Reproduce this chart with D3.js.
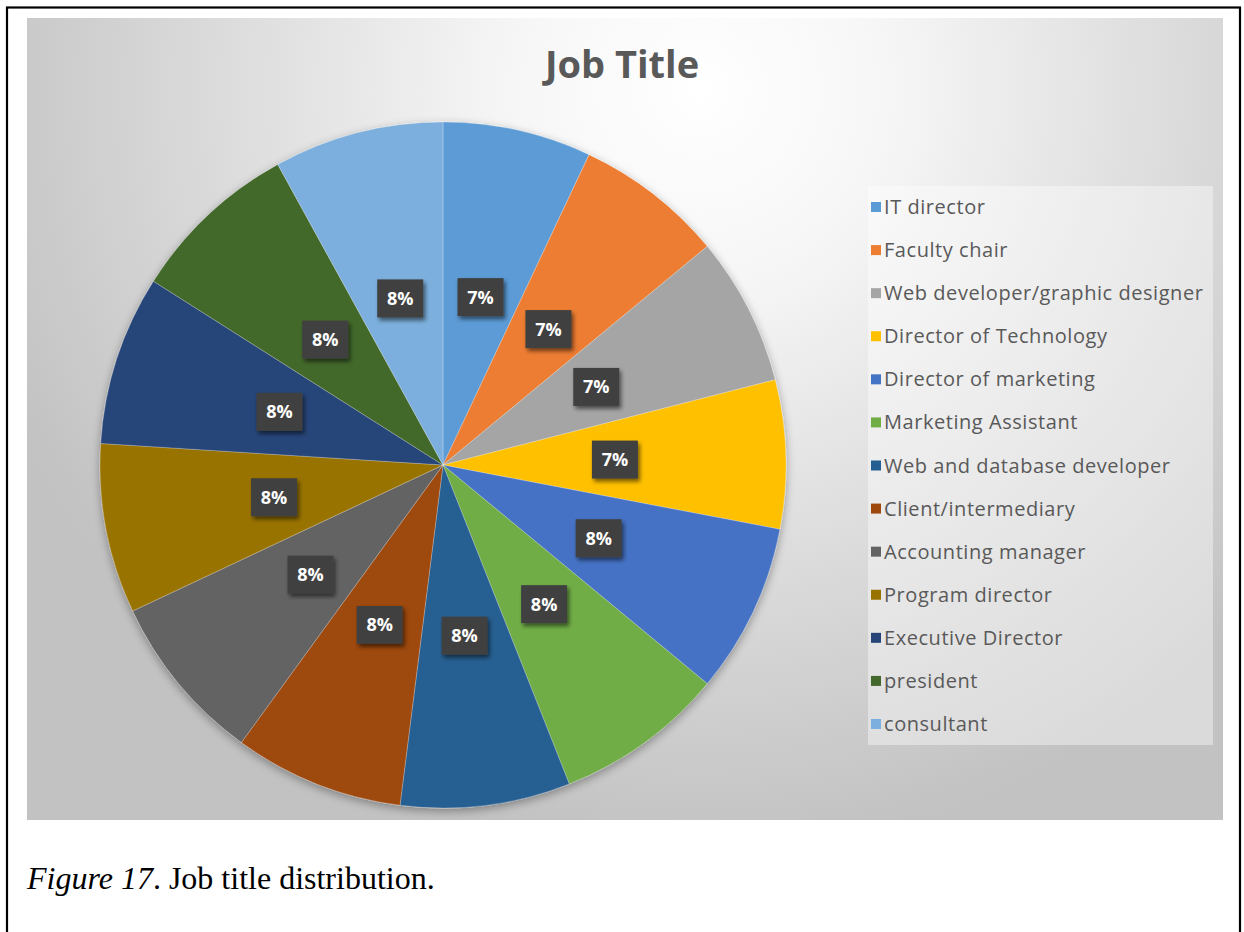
<!DOCTYPE html>
<html>
<head>
<meta charset="utf-8">
<script src="https://cdn.jsdelivr.net/npm/d3@7"></script>
<style>
  html, body { margin: 0; padding: 0; background: #ffffff; }
  svg { display: block; }
</style>
</head>
<body>
<svg id="chart" width="1244" height="932"></svg>
<script>
// Job title shares (percent), drawn clockwise from 12 o'clock
const categories = [
  "IT director", "Faculty chair", "Web developer/graphic designer",
  "Director of Technology", "Director of marketing", "Marketing Assistant",
  "Web and database developer", "Client/intermediary", "Accounting manager",
  "Program director", "Executive Director", "president", "consultant"
];
const shares = [7, 7, 7, 7, 8, 8, 8, 8, 8, 8, 8, 8, 8];
const sliceColors = [
  "#5B9BD5", "#ED7D31", "#A5A5A5", "#FFC000", "#4472C4", "#70AD47",
  "#255E91", "#9E480E", "#636363", "#997300", "#264478", "#43682B", "#7CAFDD"
];
const chartTitle = "Job Title";

const svg = d3.select("#chart");
const defs = svg.append("defs");

// background: soft radial gradient, bright near the title
const bg = defs.append("radialGradient")
  .attr("id", "bgGrad")
  .attr("gradientUnits", "userSpaceOnUse")
  .attr("cx", 700).attr("cy", 90).attr("r", 760);
bg.append("stop").attr("offset", "0%").attr("stop-color", "#ffffff");
bg.append("stop").attr("offset", "25%").attr("stop-color", "#f6f6f6");
bg.append("stop").attr("offset", "100%").attr("stop-color", "#c2c2c2");

// shadows for the pie and the label boxes
const pieShadow = defs.append("filter").attr("id", "pieShadow")
  .attr("x", "-10%").attr("y", "-10%").attr("width", "120%").attr("height", "125%");
pieShadow.append("feGaussianBlur").attr("in", "SourceAlpha").attr("stdDeviation", 5);
pieShadow.append("feOffset").attr("dx", 0).attr("dy", 3).attr("result", "ob");
pieShadow.append("feComponentTransfer").append("feFuncA").attr("type", "linear").attr("slope", 0.35);
const pm = pieShadow.append("feMerge");
pm.append("feMergeNode");
pm.append("feMergeNode").attr("in", "SourceGraphic");

const boxShadow = defs.append("filter").attr("id", "boxShadow")
  .attr("x", "-30%").attr("y", "-30%").attr("width", "170%").attr("height", "170%");
boxShadow.append("feGaussianBlur").attr("in", "SourceAlpha").attr("stdDeviation", 2);
boxShadow.append("feOffset").attr("dx", 2).attr("dy", 3).attr("result", "ob");
boxShadow.append("feComponentTransfer").append("feFuncA").attr("type", "linear").attr("slope", 0.55);
const bm = boxShadow.append("feMerge");
bm.append("feMergeNode");
bm.append("feMergeNode").attr("in", "SourceGraphic");

// outer page frame
svg.append("rect")
  .attr("x", 7).attr("y", 7.5).attr("width", 1233).attr("height", 940)
  .attr("fill", "#ffffff").attr("stroke", "#000000").attr("stroke-width", 2.2);

// chart area
svg.append("rect")
  .attr("x", 27).attr("y", 18).attr("width", 1196).attr("height", 802)
  .attr("fill", "url(#bgGrad)");

// title
svg.append("text")
  .attr("x", 622).attr("y", 78)
  .attr("text-anchor", "middle")
  .attr("font-family", "'Open Sans', 'Noto Sans', sans-serif")
  .attr("font-weight", 700)
  .attr("font-size", 38)
  .attr("fill", "#595959")
  .text(chartTitle);

// pie
const cx = 443, cy = 465, radius = 343;
const color = d3.scaleOrdinal().domain(categories).range(sliceColors);
const pie = d3.pie().sort(null).value(d => d.value);
const data = categories.map((c, i) => ({ name: c, value: shares[i] }));
const arcs = pie(data);
const total = d3.sum(shares);

const arc = d3.arc().innerRadius(0).outerRadius(radius);
const labelArc = d3.arc().innerRadius(172).outerRadius(172);

const g = svg.append("g").attr("transform", `translate(${cx},${cy})`);
g.append("g").attr("filter", "url(#pieShadow)")
  .selectAll("path")
  .data(arcs)
  .join("path")
  .attr("d", arc)
  .attr("fill", d => color(d.data.name))
  .attr("stroke", "rgba(255,255,255,0.25)")
  .attr("stroke-width", 1);

// percentage labels in dark boxes
const fmt = d3.format(".0%");
const lbl = g.append("g").selectAll("g")
  .data(arcs)
  .join("g")
  .attr("transform", d => `translate(${labelArc.centroid(d)})`);
lbl.append("rect")
  .attr("x", -23).attr("y", -19).attr("width", 46).attr("height", 38)
  .attr("fill", "#404040")
  .attr("filter", "url(#boxShadow)");
lbl.append("text")
  .attr("text-anchor", "middle")
  .attr("dy", "0.36em")
  .attr("font-family", "'Open Sans', 'Noto Sans', sans-serif")
  .attr("font-weight", 700)
  .attr("font-size", 18)
  .attr("fill", "#ffffff")
  .text(d => fmt(d.data.value / total));

// legend
const legendX = 868, legendY = 186, legendW = 345, legendH = 559;
svg.append("rect")
  .attr("x", legendX).attr("y", legendY)
  .attr("width", legendW).attr("height", legendH)
  .attr("fill", "#ffffff").attr("fill-opacity", 0.4);

const ly = d3.scalePoint().domain(categories).range([207, 724]);
const leg = svg.append("g").selectAll("g")
  .data(categories)
  .join("g")
  .attr("transform", d => `translate(${legendX + 3},${ly(d)})`);
leg.append("rect")
  .attr("x", 0).attr("y", -5).attr("width", 10).attr("height", 10)
  .attr("fill", d => color(d));
leg.append("text")
  .attr("x", 13).attr("dy", "0.35em")
  .attr("font-family", "'Open Sans', 'Noto Sans', sans-serif")
  .attr("font-size", 20)
  .attr("letter-spacing", 0.55)
  .attr("fill", "#595959")
  .text(d => d);

// figure caption
const cap = svg.append("text")
  .attr("x", 27).attr("y", 889)
  .attr("font-family", "'Liberation Serif', 'Times New Roman', serif")
  .attr("font-size", 32)
  .attr("fill", "#000000");
cap.append("tspan").attr("font-style", "italic").text("Figure 17");
cap.append("tspan").text(". Job title distribution.");
</script>
</body>
</html>
